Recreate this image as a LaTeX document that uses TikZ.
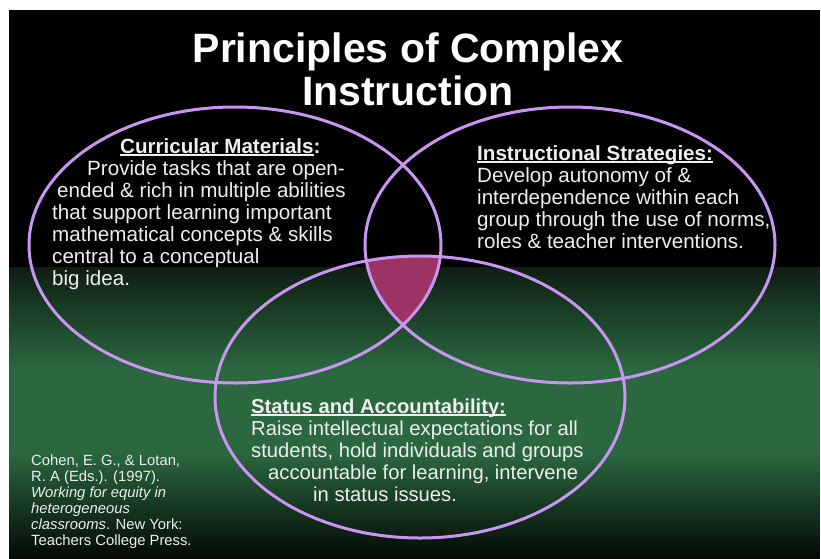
\documentclass[tikz,border=0pt]{standalone}
\usepackage{fontspec}
\setmainfont{Liberation Sans}
\definecolor{slideblack}{RGB}{0,0,0}
\definecolor{greendark}{RGB}{14,30,19}
\definecolor{greenmid}{RGB}{43,104,64}
\definecolor{greenbottom}{RGB}{3,9,5}
\definecolor{vennline}{RGB}{200,150,240}
\definecolor{venncore}{RGB}{155,52,100}
\definecolor{bodytext}{RGB}{238,238,238}
% underline drawn at a fixed depth below the baseline
\newcommand{\undl}[1]{\setbox0\hbox{#1}\rlap{\rule[-2.6pt]{\wd0}{1.2pt}}\box0}
\begin{document}
\begin{tikzpicture}[x=1pt,y=-1pt,
  ring/.style={draw=vennline,line width=3pt},
  textblock/.style={inner sep=0pt,anchor=base west,text=bodytext},
  body/.style={font=\fontsize{20.6}{22.1}\selectfont},
  bodylow/.style={font=\fontsize{20.2}{22}\selectfont},
  small/.style={font=\fontsize{14.8}{16}\selectfont}]
\useasboundingbox (0,0) rectangle (821,558);
\fill[white] (0,0) rectangle (821,558);
% slide background: black top, green band, dark foot
\fill[slideblack] (9,10) rectangle (820,268);
\foreach \i in {0,...,103}{%
  \pgfmathsetmacro\p{100*\i/103}
  \fill[greenmid!\p!greendark] (9,267+\i) rectangle (820,268.6+\i);}
\fill[greenmid] (9,370) rectangle (820,452.5);
\foreach \i in {0,...,106}{%
  \pgfmathsetmacro\p{100*\i/106}
  \fill[greenbottom!\p!greenmid] (9,452+\i) rectangle (820,453.6+\i);}
% shared core of the three sets
\begin{scope}
  \clip (235,245) ellipse [x radius=206,y radius=138];
  \clip (570,245) ellipse [x radius=205,y radius=138];
  \fill[venncore] (420,397) ellipse [x radius=205,y radius=141];
\end{scope}
\draw[ring] (235,245) ellipse [x radius=206,y radius=138];
\draw[ring] (570,245) ellipse [x radius=205,y radius=138];
\draw[ring] (420,397) ellipse [x radius=205,y radius=141];
% title
\node[inner sep=0pt,anchor=base,text=white,font=\fontsize{41}{43}\selectfont\bfseries] (title) at (408,62)
  {\vtop{\halign{\hfil#\hfil\cr Principles of Complex\cr Instruction\cr}}};
% set texts
\node[textblock,body] (curricular) at (52,153) {\vtop{%
  \hbox{\kern68pt\textbf{\undl{Curricular Materials}:}}
  \hbox{\kern35pt Provide tasks that are open-}
  \hbox{\kern5pt ended \& rich in multiple abilities}
  \hbox{that support learning important}
  \hbox{mathematical concepts \& skills}
  \hbox{central to a conceptual}
  \hbox{big idea.}}};
\node[textblock,body] (strategies) at (477,160) {\vtop{%
  \hbox{\textbf{\undl{Instructional Strategies:}}}
  \hbox{Develop autonomy of \&}
  \hbox{interdependence within each}
  \hbox{group through the use of norms,}
  \hbox{roles \& teacher interventions.}}};
\node[textblock,bodylow] (status) at (251,413) {\vtop{%
  \hbox{\textbf{\undl{Status and Accountability:}}}
  \hbox{Raise intellectual expectations for all}
  \hbox{students, hold individuals and groups}
  \hbox{\kern17pt accountable for learning, intervene}
  \hbox{\kern62pt in status issues.}}};
% reference
\node[textblock,small] (citation) at (31,465) {\vtop{%
  \hbox{Cohen, E. G., \& Lotan,}
  \hbox{R. A (Eds.). (1997).}
  \hbox{\itshape Working for equity in}
  \hbox{\itshape heterogeneous}
  \hbox{\textit{classrooms}. New York:}
  \hbox{Teachers College Press.}}};
\end{tikzpicture}
\end{document}
